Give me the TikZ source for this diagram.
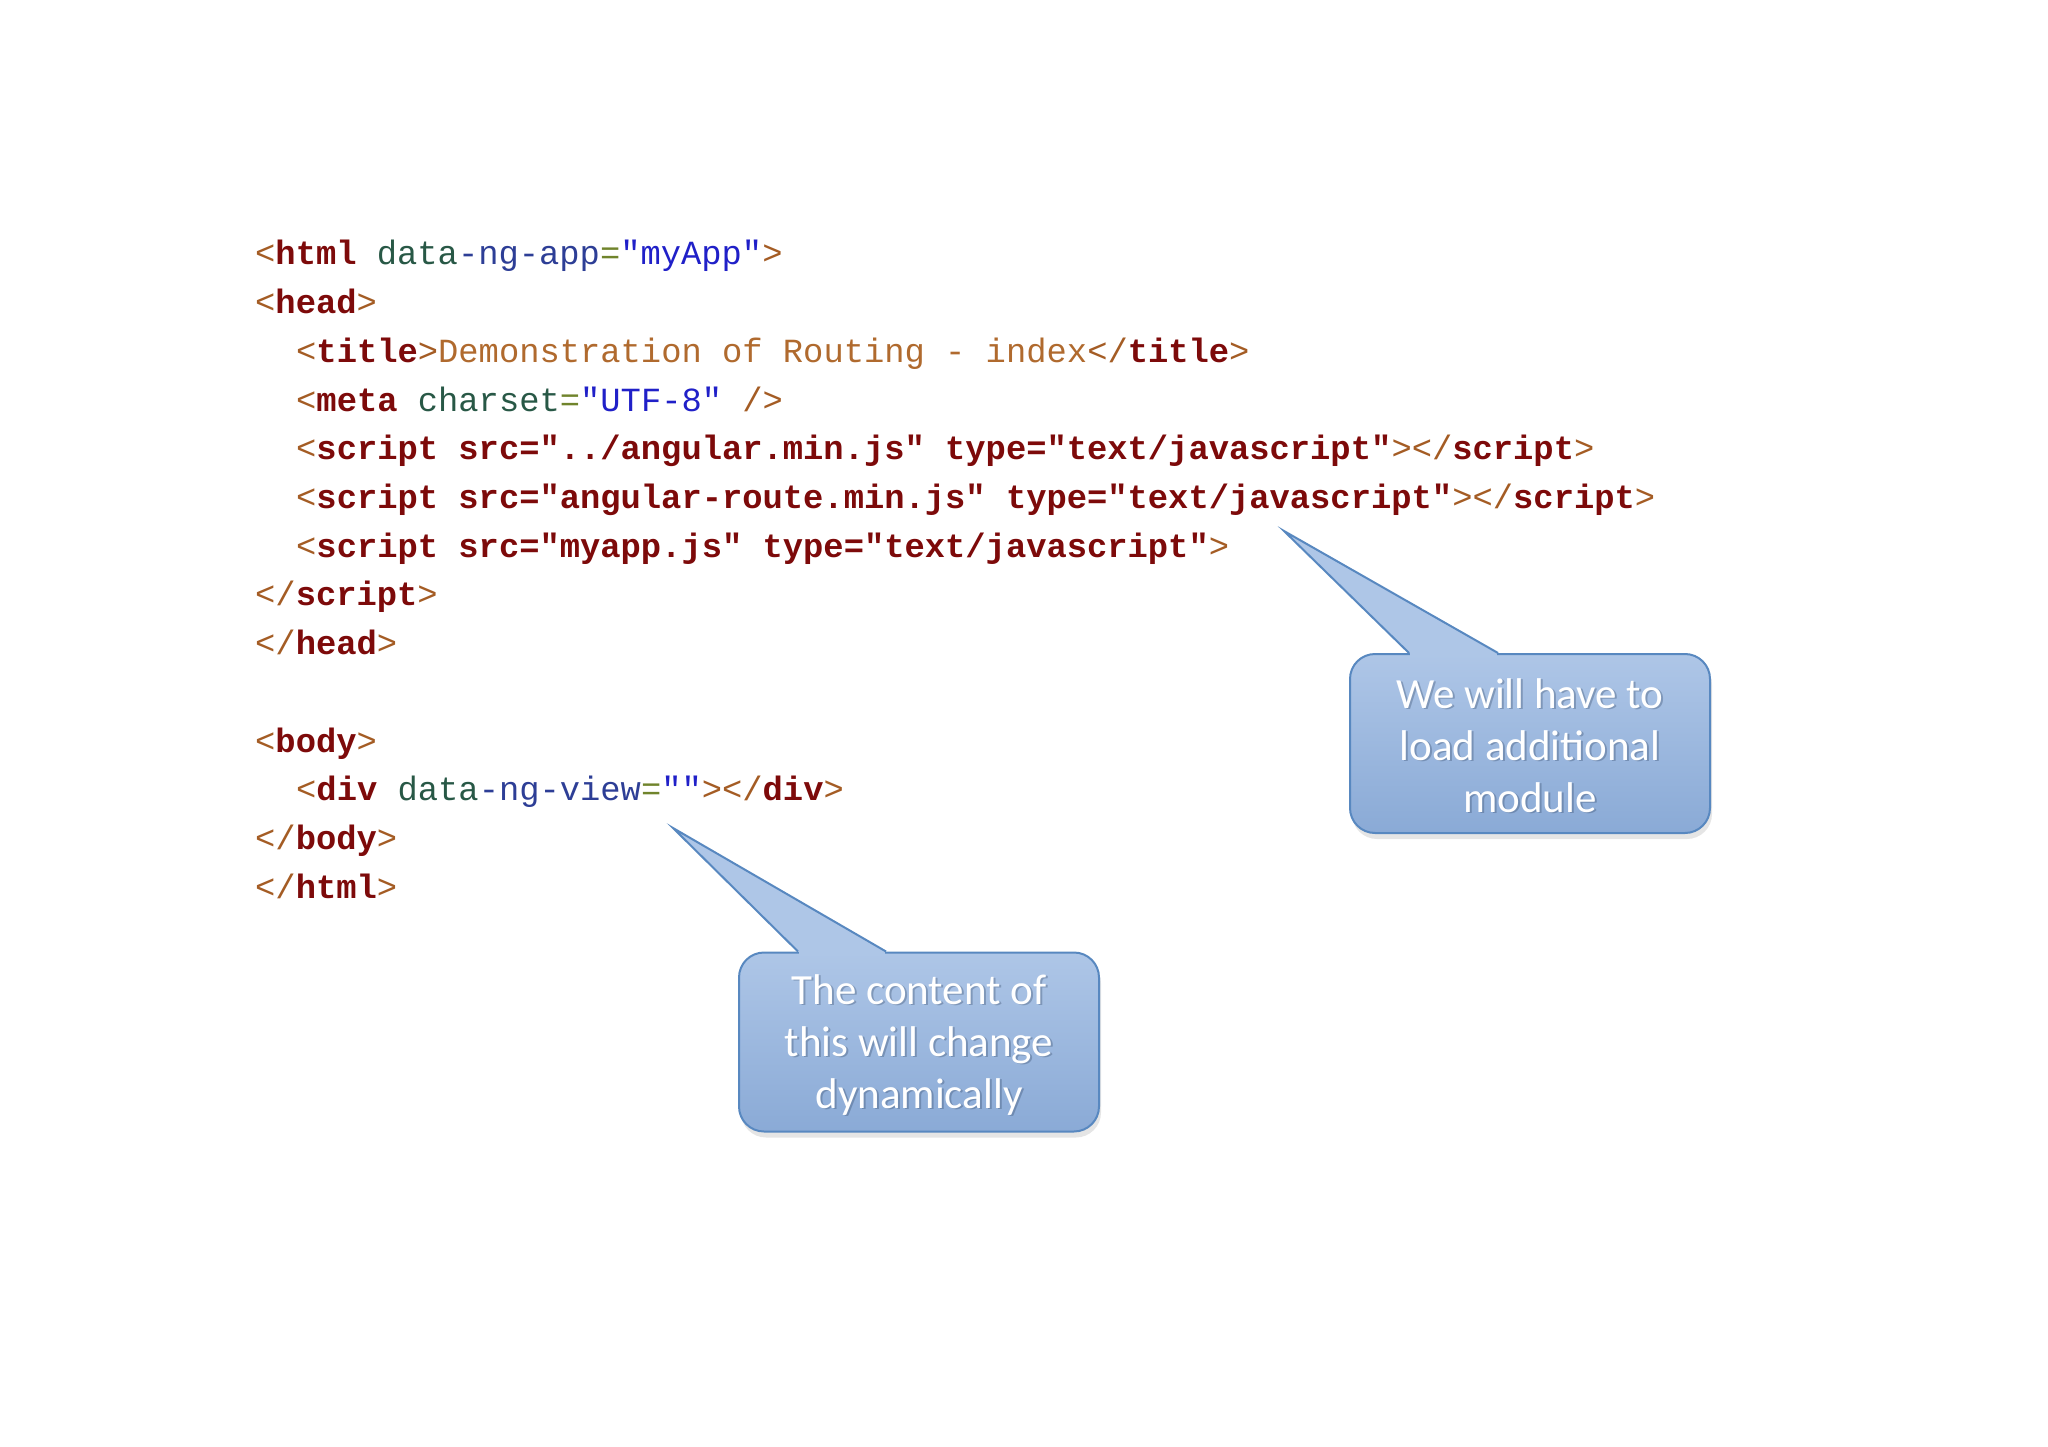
\documentclass[tikz,border=0pt]{standalone}
\usepackage{fontspec}
\newfontfamily\codefont{Liberation Mono}
\newfontfamily\notefont{Carlito}
\usepackage{tikz}
\usetikzlibrary{calc, shadows, positioning}

\definecolor{tagred}{RGB}{125, 10, 10}
\definecolor{brackbrown}{RGB}{164, 92, 36}
\definecolor{attrgreen}{RGB}{40, 88, 70}
\definecolor{attrblue}{RGB}{45, 62, 150}
\definecolor{eqolive}{RGB}{112, 132, 44}
\definecolor{valblue}{RGB}{32, 32, 200}
\definecolor{titlebrown}{RGB}{176, 106, 46}
\definecolor{notetop}{RGB}{174, 198, 231}
\definecolor{notebottom}{RGB}{138, 170, 214}
\definecolor{noteedge}{RGB}{88, 136, 192}
\definecolor{noteshade}{RGB}{40, 60, 90}

\newcommand{\brk}[1]{\textcolor{brackbrown}{#1}}
\newcommand{\tagn}[1]{\textcolor{tagred}{\bfseries #1}}
\newcommand{\atg}[1]{\textcolor{attrgreen}{#1}}
\newcommand{\atb}[1]{\textcolor{attrblue}{#1}}
\newcommand{\eqs}[1]{\textcolor{eqolive}{#1}}
\newcommand{\val}[1]{\textcolor{valblue}{#1}}
\newcommand{\ttl}[1]{\textcolor{titlebrown}{#1}}

\tikzset{
  codeline/.style={anchor=base west, inner sep=0pt, font=\codefont\fontsize{33.8}{40}\selectfont},
  notebox/.style={draw=noteedge, line width=2pt, rounded corners=25pt, top color=notetop, bottom color=notebottom,
    minimum width=360pt, minimum height=179pt, inner sep=0pt,
    drop shadow={opacity=0.2, shadow xshift=2pt, shadow yshift=-6pt}},
  notetext/.style={align=center, inner sep=0pt, text=white, font=\notefont\fontsize{43}{52}\selectfont},
  notetail/.style={draw=noteedge, line width=2pt, line join=miter, fill=notetop}
}

\begin{document}
\begin{tikzpicture}[x=1pt, y=-1pt]
  \fill[white] (0,0) rectangle (2048,1447);

  % Code listing
  \node[codeline] (lhtml) at (255, 265) {\brk{<}\tagn{html} \atg{data}\atb{-ng-app}\eqs{=}\val{"myApp"}\brk{>}};
  \node[codeline] (lhead) at (255, 313.7) {\brk{<}\tagn{head}\brk{>}};
  \node[codeline] (ltitle) at (296, 362.4) {\brk{<}\tagn{title}\brk{>}\ttl{Demonstration of Routing - index}\brk{</}\tagn{title}\brk{>}};
  \node[codeline] (lmeta) at (296, 411.1) {\brk{<}\tagn{meta} \atg{charset}\eqs{=}\val{"UTF-8"} \brk{/>}};
  \node[codeline] (lscripta) at (296, 459.8) {\brk{<}\tagn{script src="../angular.min.js" type="text/javascript"}\brk{></}\tagn{script}\brk{>}};
  \node[codeline] (lscriptb) at (296, 508.5) {\brk{<}\tagn{script src="angular-route.min.js" type="text/javascript"}\brk{></}\tagn{script}\brk{>}};
  \node[codeline] (lscriptc) at (296, 557.2) {\brk{<}\tagn{script src="myapp.js" type="text/javascript"}\brk{>}};
  \node[codeline] (lscriptend) at (255, 605.9) {\brk{</}\tagn{script}\brk{>}};
  \node[codeline] (lheadend) at (255, 654.6) {\brk{</}\tagn{head}\brk{>}};
  \node[codeline] (lbody) at (255, 752) {\brk{<}\tagn{body}\brk{>}};
  \node[codeline] (ldiv) at (296, 800.7) {\brk{<}\tagn{div} \atg{data}\atb{-ng-view}\eqs{=}\val{""}\brk{></}\tagn{div}\brk{>}};
  \node[codeline] (lbodyend) at (255, 849.4) {\brk{</}\tagn{body}\brk{>}};
  \node[codeline] (lhtmlend) at (255, 898.1) {\brk{</}\tagn{html}\brk{>}};

  % Callout: additional module
  \coordinate (modtip) at (1284, 531);
  \node[notebox] (modbox) at (1530, 743.5) {};
  \fill[notetop] ($(modbox.north west)+(61,-1)$) -- ($(modbox.north west)+(61,4)$) -- ($(modbox.north west)+(148,4)$) -- ($(modbox.north west)+(148,-1)$) -- cycle;
  \draw[notetail] ($(modbox.north west)+(60,0)$) -- (modtip) -- ($(modbox.north west)+(149,0)$);
  \node[notetext, text=noteshade, text opacity=0.3] (modshade) at ($(modbox)+(2,3)$) {We will have to\\load additional\\module};
  \node[notetext] (modnote) at ($(modbox)+(0,2)$) {We will have to\\load additional\\module};

  % Callout: dynamic content
  \coordinate (viewtip) at (673, 828);
  \node[notebox] (viewbox) at (919, 1042) {};
  \fill[notetop] ($(viewbox.north west)+(61,-1)$) -- ($(viewbox.north west)+(61,4)$) -- ($(viewbox.north west)+(147,4)$) -- ($(viewbox.north west)+(147,-1)$) -- cycle;
  \draw[notetail] ($(viewbox.north west)+(60,0)$) -- (viewtip) -- ($(viewbox.north west)+(148,0)$);
  \node[notetext, text=noteshade, text opacity=0.3] (viewshade) at ($(viewbox)+(2,4)$) {The content of\\this will change\\dynamically};
  \node[notetext] (viewnote) at ($(viewbox)+(0,3)$) {The content of\\this will change\\dynamically};
\end{tikzpicture}
\end{document}
